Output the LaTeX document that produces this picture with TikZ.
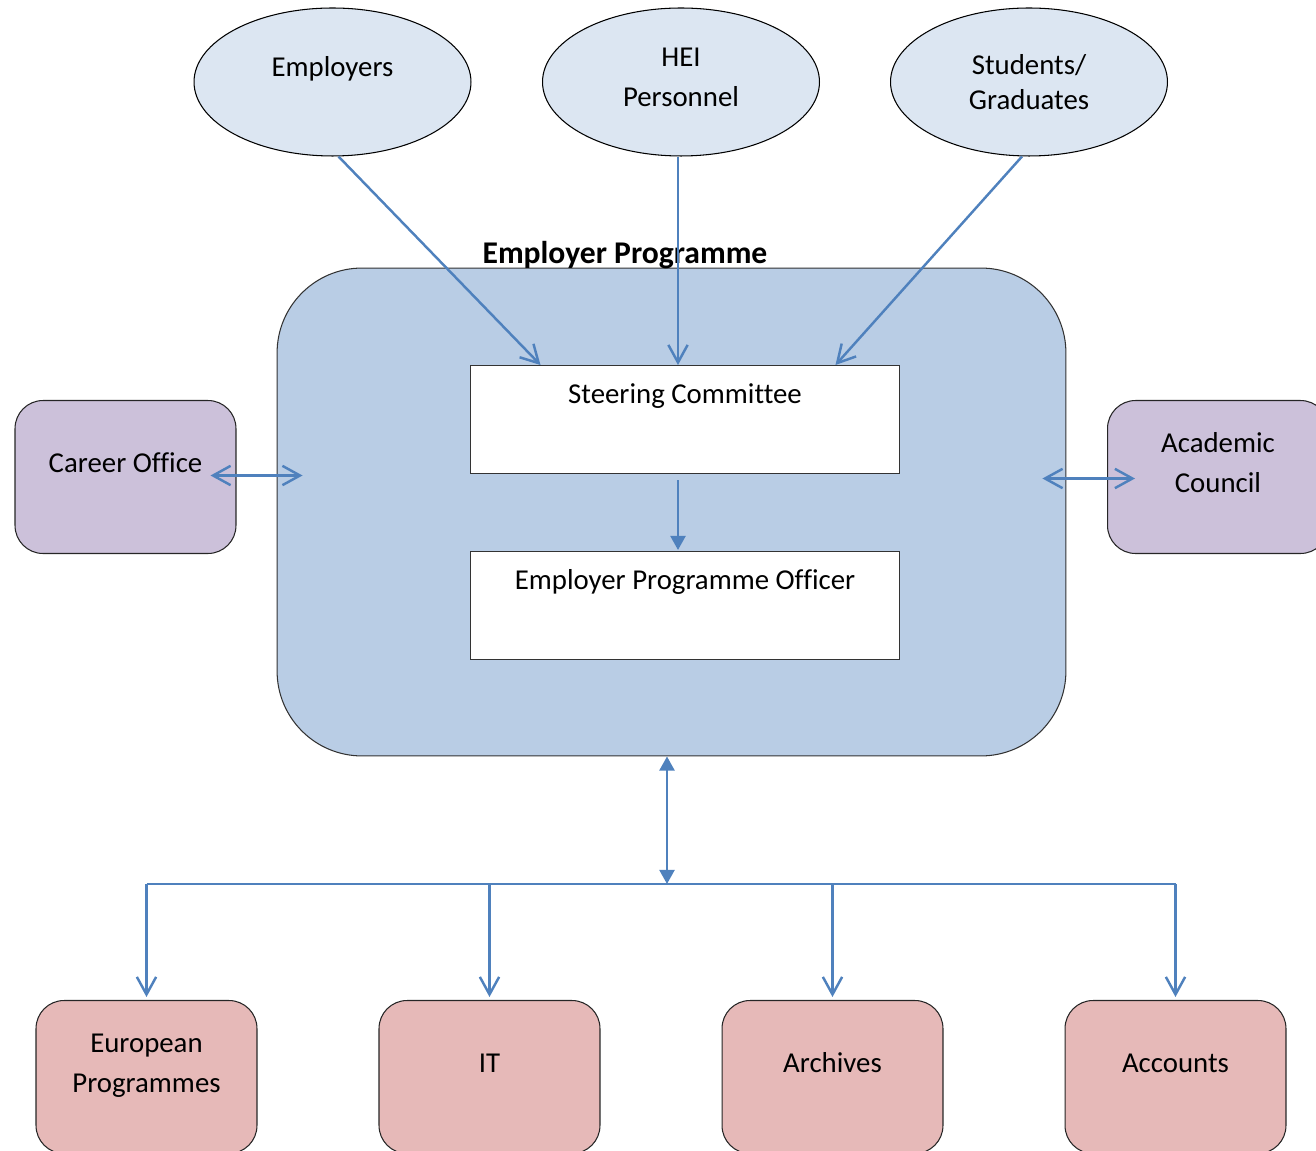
\documentclass[tikz,border=0pt]{standalone}
\usepackage{fontspec}
\setmainfont{Carlito}[Ligatures=NoCommon]
\usetikzlibrary{shapes.geometric,arrows.meta,calc}
\definecolor{stakefill}{HTML}{DCE6F2}
\definecolor{progfill}{HTML}{B9CDE5}
\definecolor{sidefill}{HTML}{CCC1DA}
\definecolor{unitfill}{HTML}{E6B9B8}
\definecolor{flowblue}{HTML}{4F81BD}
\begin{document}
\begin{tikzpicture}[x=0.02cm,y=-0.02cm,
  every node/.style={font=\fontsize{16.4pt}{22.7pt}\selectfont},
  stake/.style={ellipse,draw,line width=0.6pt,fill=stakefill,minimum width=5.54cm,minimum height=2.96cm,inner sep=0pt,align=center},
  progbox/.style={draw=black!80,line width=0.6pt,fill=progfill,rounded corners=1.7cm,minimum width=15.78cm,minimum height=9.76cm},
  innerbox/.style={draw=black!80,line width=0.6pt,fill=white,anchor=north,minimum width=8.6cm,inner sep=0pt,text height=0.76cm,text depth=1.4cm},
  sidebox/.style={draw=black!85,line width=0.6pt,fill=sidefill,rounded corners=0.56cm,anchor=north,minimum width=4.42cm,inner sep=0pt,align=center},
  unitbox/.style={sidebox,fill=unitfill},
  oneline/.style={text height=1.43cm,text depth=1.63cm},
  twoline/.style={text height=1.83cm,text depth=1.23cm},
  flow/.style={draw=flowblue,line width=1.4pt},
  openarr/.style={flow,-{Straight Barb[length=10pt,width=11pt]}},
  dblopen/.style={flow,{Straight Barb[length=10pt,width=11pt]}-{Straight Barb[length=10pt,width=11pt]}},
  fillarr/.style={flow,-{Triangle[length=8pt,width=8.5pt]}},
  dblfill/.style={flow,{Triangle[length=8pt,width=8.5pt]}-{Triangle[length=8pt,width=8.5pt]}}]
  \useasboundingbox (0,0) rectangle (1316,1151);
  \clip (0,0) rectangle (1316,1151);
  \node[stake,text height=0.4cm,text depth=0.62cm] (emp) at (332.5,82) {Employers};
  \node[stake,text depth=0.2cm] (hei) at (681,82) {HEI\\Personnel};
  \node[stake] (stu) at (1029,82) {Students/\\[-3pt]Graduates};
  \node[progbox] (main) at (671.5,512) {};
  \node[font=\fontsize{18pt}{22.7pt}\selectfont\bfseries,anchor=base] (title) at (625,264) {Employer Programme};
  \node[innerbox] (stc) at (685,365) {Steering Committee};
  \node[innerbox] (epo) at (685,551) {Employer Programme Officer};
  \node[sidebox,oneline] (career) at (125.5,400) {Career Office};
  \node[sidebox,twoline] (acad) at (1218,400) {Academic\\Council};
  \node[unitbox,twoline] (euro) at (146.5,1000) {European\\Programmes};
  \node[unitbox,oneline] (it) at (489.5,1000) {IT};
  \node[unitbox,oneline] (arch) at (832.5,1000) {Archives};
  \node[unitbox,oneline] (accts) at (1175.5,1000) {Accounts};
  \coordinate (hub) at (667,884);
  \draw[openarr] ($(emp.south)+(6,0)$) -- ($(stc.north west)+(71,0)$);
  \draw[openarr] ($(hei.south)+(-3,0)$) -- ($(stc.north)+(-7,0)$);
  \draw[openarr] ($(stu.south)+(-7,0)$) -- ($(stc.north east)+(-65,0)$);
  \draw[fillarr] ($(stc.south)+(-7,6)$) -- ($(epo.north)+(-7,-1)$);
  \draw[dblopen] ($(career.east)+(-26,-1.5)$) -- ($(career.east -| main.west)+(26,-1.5)$);
  \draw[dblopen] ($(acad.west -| main.east)+(-24,1.5)$) -- ($(acad.west)+(28,1.5)$);
  \draw[dblfill] (hub |- main.south) -- (hub);
  \draw[flow] (euro.north |- hub) -- (accts.north |- hub);
  \foreach \u in {euro,it,arch,accts}
    \draw[openarr] (\u.north |- hub) -- ($(\u.north)+(0,-3)$);
\end{tikzpicture}
\end{document}
